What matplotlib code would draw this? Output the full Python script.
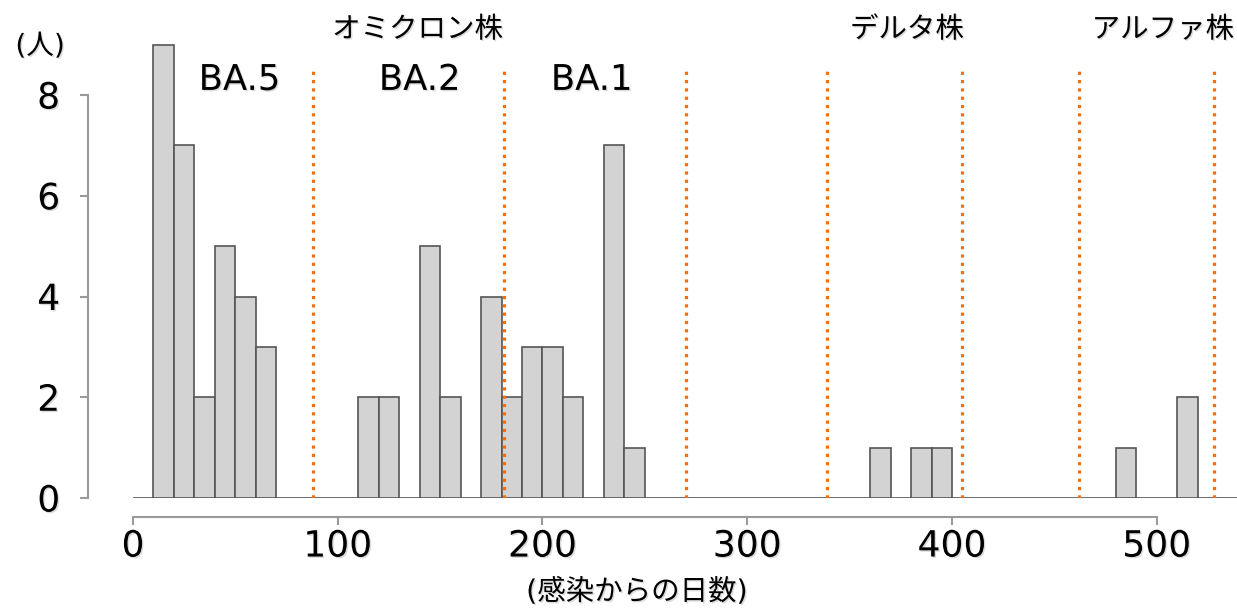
import numpy as np
import matplotlib
matplotlib.use("Agg")
import matplotlib.pyplot as plt
import matplotlib.patheffects as pe

plt.rcParams['font.family'] = ['DejaVu Sans', 'Noto Sans CJK JP']

# Histogram bins (left edges, width 10 days) and counts
bin_width = 10
bin_left = list(range(0, 540, 10))
counts = [0, 9, 7, 2, 5, 4, 3, 0, 0, 0,
          0, 2, 2, 0, 5, 2, 0, 4, 2, 3,
          3, 2, 0, 7, 1, 0, 0, 0, 0, 0,
          0, 0, 0, 0, 0, 0, 1, 0, 1, 1,
          0, 0, 0, 0, 0, 0, 0, 0, 1, 0,
          0, 2, 0, 0]

# Variant boundary lines (days)
boundaries = [88, 181, 270, 339, 405, 462, 528]
sub_labels = ["BA.5", "BA.2", "BA.1"]
sub_x = [52, 140, 224]
variant_labels = ["オミクロン株", "デルタ株", "アルファ株"]
variant_x = [139, 378, 503]

x_ticks = [0, 100, 200, 300, 400, 500]
y_ticks = [0, 2, 4, 6, 8]

shadow = [pe.withSimplePatchShadow(offset=(1, -1), shadow_rgbFace='#999999', alpha=0.35)]

W, H = 1237, 612
fig = plt.figure(figsize=(W / 100, H / 100), dpi=100)
ymax = 9.2
px_per_unit_y = 50.375
ax = fig.add_axes([133 / W, (H - 498) / H, (W - 133) / W, ymax * px_per_unit_y / H])

ax.bar(bin_left, counts, width=bin_width, align='edge', color='#D3D3D3',
       edgecolor='#555555', linewidth=1.2, zorder=2)

for b in boundaries:
    ax.plot([b, b], [0, 8.55], color='#F07010', linewidth=2.3,
            linestyle=(0, (1, 1.6)), dash_capstyle='butt', zorder=3)

ax.set_xlim(0, 539.2)
ax.set_ylim(0, ymax)

for s in ['top', 'right']:
    ax.spines[s].set_visible(False)
ax.spines['left'].set_position(('outward', 32.4))
ax.spines['left'].set_bounds(0, 8)
ax.spines['bottom'].set_position(('outward', 13.7))
ax.spines['bottom'].set_bounds(0, 500)
for s in ['left', 'bottom']:
    ax.spines[s].set_color('#9A9A9A')
    ax.spines[s].set_linewidth(1.5)

ax.set_xticks(x_ticks)
ax.set_yticks(y_ticks)
ax.tick_params(axis='y', length=6, width=1.5, color='#9A9A9A', labelsize=26, pad=14)
ax.tick_params(axis='x', length=6, width=1.5, color='#9A9A9A', labelsize=26, pad=3)
for lbl in ax.get_xticklabels() + ax.get_yticklabels():
    lbl.set_path_effects(shadow)

for lab, xv in zip(sub_labels, sub_x):
    ax.text(xv, 8.3, lab, ha='center', va='center', fontsize=25.5, path_effects=shadow)

for lab, xv in zip(variant_labels, variant_x):
    ax.text(xv, 9.3, lab, ha='center', va='center', fontsize=20.5, clip_on=False,
            path_effects=shadow)

fig.text(40 / W, 1 - 46 / H, "(人)", ha='center', va='center', fontsize=20, path_effects=shadow)
fig.text(637 / W, 1 - 592 / H, "(感染からの日数)", ha='center', va='center', fontsize=20.5,
         path_effects=shadow)

fig.savefig("out.png", dpi=100)
